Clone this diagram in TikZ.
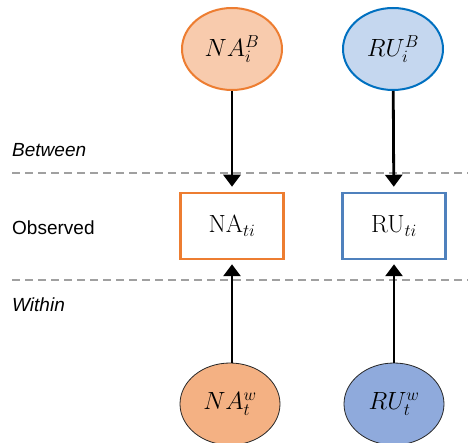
\documentclass[tikz,border=0pt]{standalone}
\usepackage[no-math]{fontspec}
\setmainfont{Liberation Sans}
\usetikzlibrary{arrows.meta,shapes.geometric}
\definecolor{naedge}{HTML}{ED7D31}
\definecolor{nafillB}{HTML}{F8CBAD}
\definecolor{nafillW}{HTML}{F4B183}
\definecolor{ruedge}{HTML}{0070C0}
\definecolor{rufillB}{HTML}{C5D7EF}
\definecolor{rufillW}{HTML}{8FAADC}
\definecolor{rubox}{HTML}{4F81BD}
\definecolor{divider}{HTML}{A0A0A0}
\tikzset{
  latent/.style={ellipse, minimum width=100pt, minimum height=82pt, inner sep=0pt,
    font=\fontsize{23}{27}\selectfont},
  between/.style={latent, line width=2pt},
  within/.style={latent, draw=black!85, line width=0.8pt},
  obsbox/.style={rectangle, minimum width=103pt, minimum height=66pt, inner sep=0pt,
    line width=2.5pt, font=\fontsize{23}{27}\selectfont},
  levellabel/.style={anchor=west, inner sep=0pt, font=\fontsize{19}{23}\selectfont},
  effect/.style={line width=2.8pt, -{Triangle[length=12pt,width=17pt]}},
  levelline/.style={draw=divider, line width=1.5pt, dash pattern=on 8pt off 5pt}
}
\begin{document}
\begin{tikzpicture}[x=1pt,y=-1pt]
\useasboundingbox (0,0) rectangle (468,443);

% level dividers
\coordinate (d1a) at (12,173);
\coordinate (d1b) at (468,173);
\coordinate (d2a) at (12,280);
\coordinate (d2b) at (468,280);
\draw[levelline] (d1a) -- (d1b);
\draw[levelline] (d2a) -- (d2b);

% level labels
\node[levellabel] (lb) at (12,150) {\itshape Between};
\node[levellabel] (lo) at (12,228) {Observed};
\node[levellabel] (lw) at (12,305) {\itshape Within};

% between-person latent factors
\node[between, draw=naedge, fill=nafillB] (naB) at (232,49) {$NA_i^B$};
\node[between, draw=ruedge, fill=rufillB] (ruB) at (393,49) {$RU_i^B$};

% observed indicators
\node[obsbox, draw=naedge] (naO) at (232,226) {$\mathrm{NA}_{ti}$};
\node[obsbox, draw=rubox] (ruO) at (394,226) {$\mathrm{RU}_{ti}$};

% within-person latent factors
\node[within, fill=nafillW] (naW) at (230,404) {$NA_t^w$};
\node[within, fill=rufillW] (ruW) at (394,404) {$RU_t^w$};

% paths
\draw[effect, shorten >=5pt] (naB) -- (naO);
\draw[effect, shorten >=5pt] (ruB) -- (ruO);
\draw[effect, shorten >=4pt] (naW.north -| naO) -- (naO);
\draw[effect, shorten >=4pt] (ruW) -- (ruO);
\end{tikzpicture}
\end{document}
